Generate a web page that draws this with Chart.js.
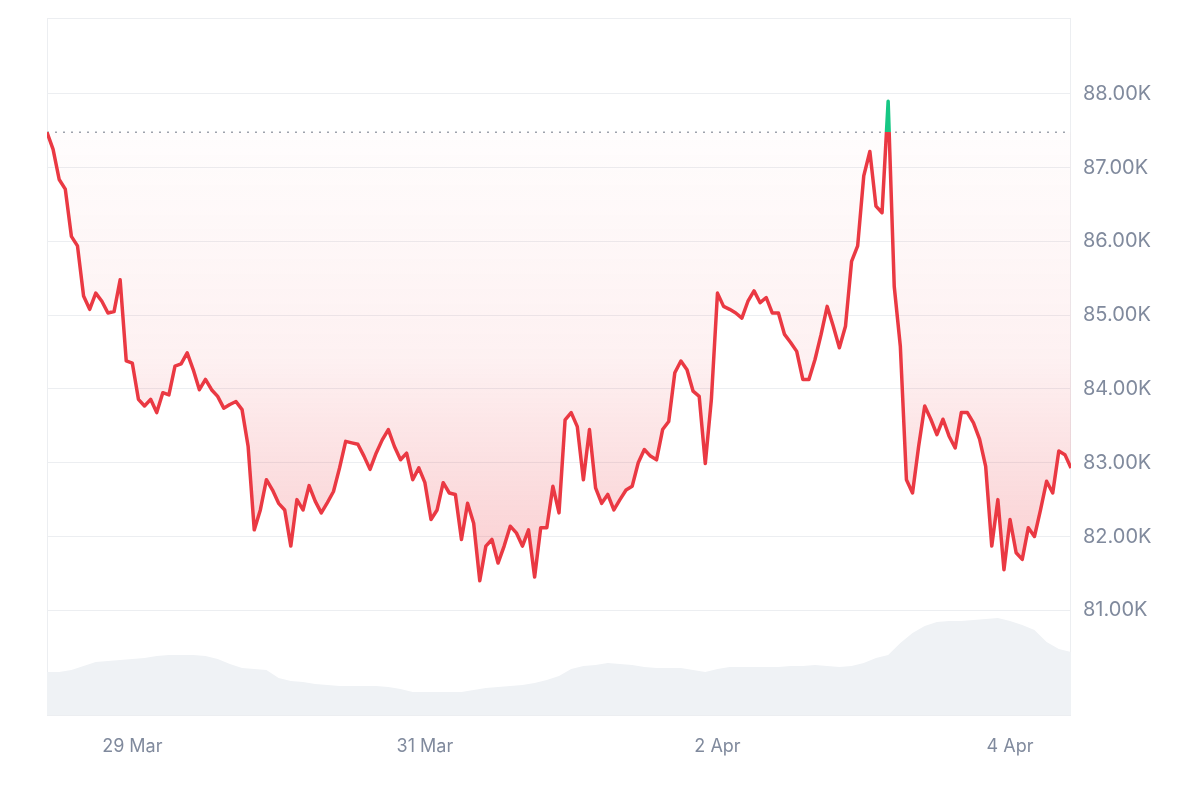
<!DOCTYPE html>
<html lang="en">
<head>
    <meta charset="UTF-8">
    <title>BTC 7D</title>
    <script src="https://cdn.jsdelivr.net/npm/chart.js"></script>
    <style>
        html, body {
            margin: 0;
            padding: 0;
            background: #fff;
        }
        #wrap {
            width: 1200px;
            height: 800px;
        }
    </style>
</head>
<body>
    <div id="wrap"><canvas id="priceChart"></canvas></div>

    <script>
        // hourly price, thousands USD, from 28 Mar ~10:00 (hour 0) to 4 Apr ~10:00 (hour 168)
        const PRICES = [
            87.48, 87.25, 86.84, 86.71, 86.07, 85.94, 85.26, 85.08, 85.30, 85.19,
            85.03, 85.05, 85.48, 84.38, 84.35, 83.86, 83.77, 83.86, 83.68, 83.95,
            83.92, 84.31, 84.34, 84.49, 84.26, 83.99, 84.13, 83.99, 83.90, 83.74,
            83.79, 83.83, 83.72, 83.22, 82.09, 82.36, 82.77, 82.63, 82.45, 82.36,
            81.87, 82.50, 82.36, 82.69, 82.48, 82.32, 82.46, 82.61, 82.93, 83.29,
            83.27, 83.25, 83.09, 82.91, 83.13, 83.31, 83.45, 83.22, 83.04, 83.13,
            82.77, 82.93, 82.73, 82.23, 82.36, 82.73, 82.59, 82.57, 81.96, 82.45,
            82.18, 81.40, 81.87, 81.96, 81.64, 81.87, 82.14, 82.05, 81.87, 82.09,
            81.45, 82.12, 82.12, 82.68, 82.32, 83.58, 83.68, 83.49, 82.77, 83.45,
            82.66, 82.45, 82.57, 82.36, 82.50, 82.63, 82.68, 83.00, 83.18, 83.09,
            83.04, 83.45, 83.56, 84.22, 84.38, 84.26, 83.97, 83.90, 82.99, 83.86,
            85.30, 85.12, 85.08, 85.03, 84.96, 85.19, 85.33, 85.17, 85.24, 85.03,
            85.03, 84.74, 84.63, 84.51, 84.13, 84.13, 84.40, 84.74, 85.12, 84.85,
            84.56, 84.85, 85.73, 85.94, 86.89, 87.22, 86.48, 86.39, 87.90, 85.39,
            84.58, 82.77, 82.59, 83.22, 83.77, 83.59, 83.38, 83.59, 83.36, 83.20,
            83.68, 83.68, 83.54, 83.32, 82.95, 81.87, 82.50, 81.55, 82.23, 81.78,
            81.69, 82.12, 82.00, 82.36, 82.75, 82.59, 83.16, 83.11, 82.93
        ];

        // 24h volume, billions USD, every 2 hours
        const VOLUME = [
            24.7, 24.7, 25.8, 28.1, 30.4, 31.0, 31.6, 32.1, 32.7, 33.9,
            34.4, 34.4, 34.4, 33.9, 32.1, 29.3, 27.0, 26.4, 25.8, 21.2,
            19.5, 18.9, 17.8, 17.2, 16.6, 16.6, 16.6, 16.6, 16.1, 14.9,
            13.2, 13.2, 13.2, 13.2, 13.2, 14.4, 15.5, 16.1, 16.6, 17.2,
            18.4, 20.1, 22.4, 26.4, 28.1, 28.7, 29.8, 29.3, 28.7, 27.6,
            27.0, 27.0, 27.0, 25.8, 24.7, 26.4, 27.6, 27.6, 27.6, 27.6,
            27.6, 28.1, 28.1, 28.7, 28.1, 27.6, 28.1, 29.8, 32.7, 34.4,
            41.3, 47.1, 51.1, 53.4, 54.0, 54.0, 54.5, 55.1, 55.7, 54.0,
            51.7, 48.8, 41.9, 37.9, 36.2
        ];

        const BASELINE = 87.48;           // opening price of the period
        const PRICE_TICKS = [81, 82, 83, 84, 85, 86, 87, 88];
        const TICK_HOURS = [14, 62, 110, 158];
        const TICK_LABELS = ['29 Mar', '31 Mar', '2 Apr', '4 Apr'];

        const RED = '#ea3943';
        const GREEN = '#16c784';
        const TEXT = '#808a9d';

        // line colour: green above the opening price, red below
        function strokeColor(context) {
            const chart = context.chart;
            const area = chart.chartArea;
            if (!area) return RED;
            const yb = chart.scales.y.getPixelForValue(BASELINE);
            const t = Math.min(1, Math.max(0, (yb - area.top) / (area.bottom - area.top)));
            const g = chart.ctx.createLinearGradient(0, area.top, 0, area.bottom);
            g.addColorStop(0, GREEN);
            g.addColorStop(t, GREEN);
            g.addColorStop(t, RED);
            g.addColorStop(1, RED);
            return g;
        }

        function fillColor(context) {
            const chart = context.chart;
            const area = chart.chartArea;
            if (!area) return 'rgba(234,57,67,0.1)';
            const y = chart.scales.y;
            const yb = y.getPixelForValue(BASELINE);
            const yl = y.getPixelForValue(Math.min(...PRICES));
            const g = chart.ctx.createLinearGradient(0, yb, 0, yl);
            g.addColorStop(0, 'rgba(234,57,67,0.01)');
            g.addColorStop(0.5, 'rgba(234,57,67,0.07)');
            g.addColorStop(1, 'rgba(234,57,67,0.25)');
            return g;
        }

        const frame = {
            id: 'frame',
            beforeDatasetsDraw(chart) {
                const { ctx, chartArea: a } = chart;
                ctx.save();
                ctx.strokeStyle = '#eceef1';
                ctx.lineWidth = 1;
                ctx.strokeRect(a.left + 0.5, a.top + 0.5, a.right - a.left - 1, a.bottom - a.top);
                ctx.restore();
            }
        };

        const ctx = document.getElementById('priceChart').getContext('2d');
        new Chart(ctx, {
            type: 'line',
            data: {
                datasets: [
                    {
                        label: 'Price',
                        data: PRICES.map((p, i) => ({ x: i, y: p })),
                        yAxisID: 'y',
                        borderColor: strokeColor,
                        backgroundColor: fillColor,
                        borderWidth: 3.5,
                        borderJoinStyle: 'round',
                        fill: { value: BASELINE },
                        pointRadius: 0,
                        tension: 0,
                        order: 1
                    },
                    {
                        label: 'Open',
                        data: [{ x: 0, y: BASELINE }, { x: PRICES.length - 1, y: BASELINE }],
                        yAxisID: 'y',
                        borderColor: '#9ea4ae',
                        borderWidth: 1.5,
                        borderDash: [2, 6],
                        pointRadius: 0,
                        fill: false,
                        order: 2
                    },
                    {
                        label: 'Volume',
                        data: VOLUME.map((v, i) => ({ x: i * 2, y: v })),
                        yAxisID: 'vol',
                        borderWidth: 0,
                        backgroundColor: '#eff2f5',
                        fill: 'origin',
                        pointRadius: 0,
                        tension: 0,
                        order: 3
                    }
                ]
            },
            options: {
                responsive: true,
                maintainAspectRatio: false,
                animation: false,
                layout: { padding: { left: 47, top: 18, right: 0, bottom: 0 } },
                plugins: {
                    legend: { display: false },
                    tooltip: { enabled: false }
                },
                scales: {
                    x: {
                        type: 'linear',
                        min: 0,
                        max: PRICES.length - 1,
                        grid: { display: false },
                        border: { display: false },
                        afterBuildTicks: (s) => { s.ticks = TICK_HOURS.map(v => ({ value: v })); },
                        afterFit: (s) => { s.height = 85; s.paddingLeft = 0; s.paddingRight = 0; },
                        ticks: {
                            padding: 13,
                            maxRotation: 0,
                            autoSkip: false,
                            color: TEXT,
                            font: { family: 'Inter', size: 18 },
                            callback: (v) => TICK_LABELS[TICK_HOURS.indexOf(v)] || ''
                        }
                    },
                    y: {
                        position: 'right',
                        min: 79.58,
                        max: 89.03,
                        grid: { color: '#eceef1', drawTicks: false },
                        border: { display: false },
                        afterBuildTicks: (s) => { s.ticks = PRICE_TICKS.map(v => ({ value: v })); },
                        afterFit: (s) => { s.width = 129; s.paddingTop = 0; s.paddingBottom = 0; },
                        ticks: {
                            padding: 12,
                            color: TEXT,
                            font: { family: 'Inter', size: 20 },
                            callback: (v) => v.toFixed(2) + 'K'
                        }
                    },
                    vol: {
                        display: false,
                        min: 0,
                        max: 400
                    }
                }
            },
            plugins: [frame]
        });
    </script>
</body>
</html>
